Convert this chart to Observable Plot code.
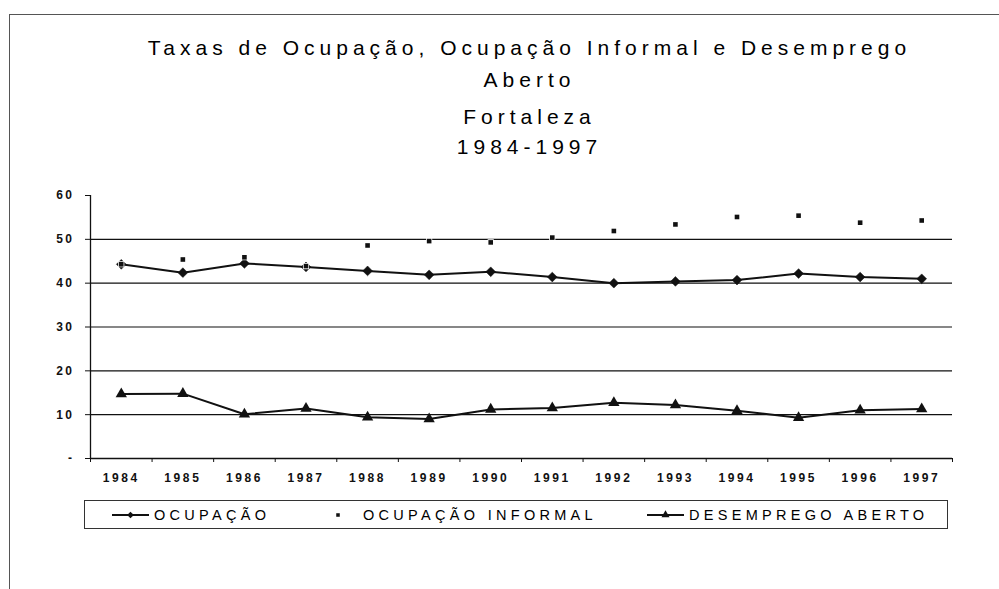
<!DOCTYPE html>
<html><head><meta charset="utf-8">
<script src="https://cdn.jsdelivr.net/npm/d3@7"></script>
<script src="https://cdn.jsdelivr.net/npm/@observablehq/plot@0.6"></script>
<style>
body{margin:0;background:#fff;}
#wrap{position:relative;width:999px;height:589px;overflow:hidden;background:#fff;font-family:"Liberation Sans",Arial,sans-serif;color:#000;}
#frame{position:absolute;left:9px;top:14px;width:1100px;height:700px;border-left:1.5px solid #555;border-top:1.5px solid #555;}
.t{position:absolute;left:30px;width:999px;text-align:center;font-size:21px;letter-spacing:5px;line-height:1;white-space:nowrap;color:#000;}
#chart{position:absolute;left:0;top:180px;}
#legendBox{position:absolute;left:84px;top:500px;width:862px;height:27px;border:1.5px solid #333;}
.item{position:absolute;top:501px;height:27px;display:flex;align-items:center;font-size:14.5px;letter-spacing:4.3px;white-space:nowrap;color:#000;}
.item svg{margin-right:5px;}
</style></head>
<body>
<div id="wrap">
  <div id="frame"></div>
  <div class="t" style="top:37px">Taxas de Ocupação, Ocupação Informal e Desemprego</div>
  <div class="t" style="top:69px">Aberto</div>
  <div class="t" style="top:106px">Fortaleza</div>
  <div class="t" style="top:136px">1984-1997</div>
  <div id="chart"></div>
  <div id="legendBox"></div>
</div>
<script>
const years = [1984,1985,1986,1987,1988,1989,1990,1991,1992,1993,1994,1995,1996,1997];
const ocupacao = [44.3,42.4,44.5,43.7,42.8,41.9,42.6,41.4,40.0,40.4,40.7,42.2,41.4,41.0];
const informal = [44.3,45.4,45.9,43.9,48.6,49.6,49.3,50.4,51.9,53.4,55.1,55.4,53.8,54.3];
const desemprego = [14.7,14.8,10.1,11.4,9.4,9.0,11.2,11.5,12.7,12.2,10.9,9.3,11.0,11.3];
const seriesNames = ["OCUPAÇÃO","OCUPAÇÃO INFORMAL","DESEMPREGO ABERTO"];
const yTicks = [0,10,20,30,40,50,60];
const gridValues = [10,20,30,40,50];

const data = years.map((y,i)=>({year:y, ocupacao:ocupacao[i], informal:informal[i], desemprego:desemprego[i]}));
const x0 = years[0]-0.5, x1 = years[years.length-1]+0.5;
const bounds = years.map(y=>y-0.5).concat([x1]);
const ink = "#111";

const svg = Plot.plot({
  width: 999, height: 308,
  marginLeft: 90, marginRight: 47, marginTop: 15, marginBottom: 30,
  style: {fontFamily: "Liberation Sans, Arial, sans-serif", color: ink, background: "transparent", overflow: "visible"},
  x: {type: "linear", domain: [x0, x1], label: null},
  y: {domain: [0, 60], label: null},
  marks: [
    Plot.ruleY(gridValues, {x1: x0, x2: x1, stroke: ink, strokeWidth: 1.2}),
    Plot.ruleY([0], {x1: x0, x2: x1, stroke: ink, strokeWidth: 1.3}),
    Plot.ruleX([x0], {y1: 0, y2: 60, stroke: ink, strokeWidth: 1.3}),
    Plot.axisY({ticks: yTicks, tickSize: 5, tickPadding: 11, tickFormat: d => d === 0 ? "-" : String(d), fontWeight: "bold", label: null}),
    Plot.axisX({ticks: years, tickSize: 0, tickPadding: 15, tickFormat: d => String(d), fontWeight: "bold", label: null}),
    Plot.axisX({ticks: bounds, tickSize: 4, tickFormat: () => "", label: null}),
    Plot.line(data, {x: "year", y: "ocupacao", stroke: ink, strokeWidth: 2}),
    Plot.dot(data, {x: "year", y: "ocupacao", symbol: "diamond2", r: 4.4, fill: ink, stroke: ink, strokeWidth: 0.5}),
    Plot.dot(data, {x: "year", y: "informal", symbol: "square", r: 2.6, fill: ink, stroke: "white", strokeWidth: 1.5, paintOrder: "stroke"}),
    Plot.line(data, {x: "year", y: "desemprego", stroke: ink, strokeWidth: 2}),
    Plot.dot(data, {x: "year", y: "desemprego", symbol: "triangle", r: 4.2, fill: ink})
  ]
});
document.getElementById("chart").appendChild(svg);
d3.select(svg).selectAll("[aria-label='y-axis tick label']").attr("font-size", null).style("font-size", "12px");
d3.select(svg).selectAll("[aria-label='y-axis tick label'] text").style("letter-spacing", "2.5px").style("font-size", "12px");
d3.select(svg).selectAll("[aria-label='x-axis tick label']").attr("font-size", null).style("font-size", "12px");
d3.select(svg).selectAll("[aria-label='x-axis tick label'] text").style("letter-spacing", "2.6px").style("font-size", "12px");

// Legend
const legendDefs = [
  {name: seriesNames[0], left: 112, line: true, type: d3.symbolDiamond2, r: 3},
  {name: seriesNames[1], left: 334, line: false, type: d3.symbolSquare, r: 2},
  {name: seriesNames[2], left: 647, line: true, type: d3.symbolTriangle, r: 3}
];
const wrap = document.getElementById("wrap");
legendDefs.forEach(d => {
  const div = document.createElement("div");
  div.className = "item";
  div.style.left = d.left + "px";
  const w = d.line ? 37 : 24;
  const s = d3.create("svg").attr("width", w).attr("height", 14);
  if (d.line) s.append("line").attr("x1", 0).attr("x2", w).attr("y1", 7).attr("y2", 7).attr("stroke", ink).attr("stroke-width", 2);
  s.append("path").attr("transform", `translate(${d.line ? w/2 : 4},7)`).attr("d", d3.symbol().type(d.type).size(Math.PI*d.r*d.r)()).attr("fill", ink);
  div.appendChild(s.node());
  const sp = document.createElement("span");
  sp.textContent = d.name;
  div.appendChild(sp);
  wrap.appendChild(div);
});
</script>
</body></html>
